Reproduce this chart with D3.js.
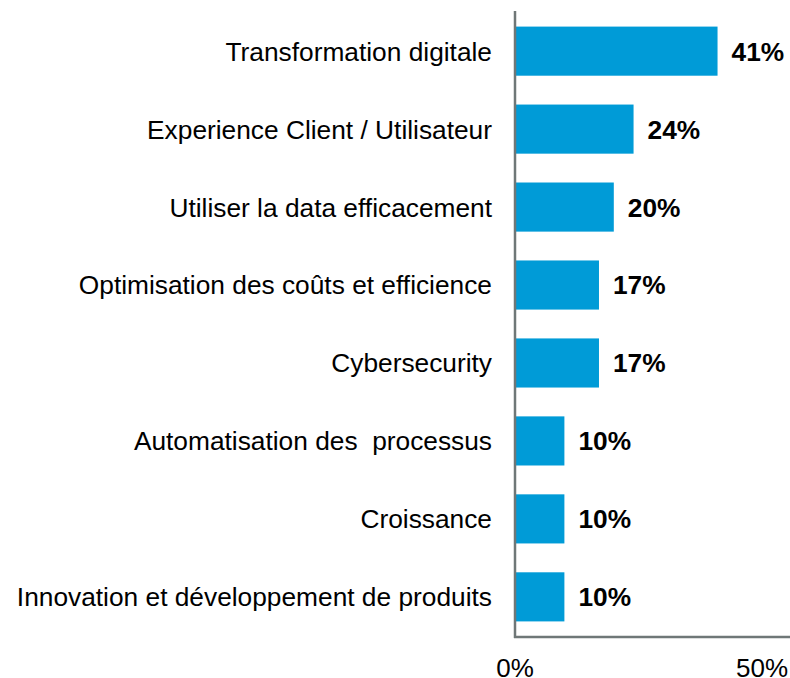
<!DOCTYPE html>
<html><head><meta charset="utf-8">
<script src="https://cdn.jsdelivr.net/npm/d3@7"></script>
<style>body{margin:0;background:#fff}svg{display:block}</style>
</head><body>
<svg id="c" width="790" height="678"></svg>
<script>
const categories = ["Transformation digitale","Experience Client / Utilisateur","Utiliser la data efficacement","Optimisation des coûts et efficience","Cybersecurity","Automatisation des  processus","Croissance","Innovation et développement de produits"];
const values = [41,24,20,17,17,10,10,10];
const tickValues = [0,50];

const svg = d3.select("#c");
const x = d3.scaleLinear().domain([0,50]).range([515,762]);
const y = d3.scaleBand().domain(categories).range([11,637]).paddingInner(0.37).paddingOuter(0.2);
const font = "Liberation Sans, Arial, sans-serif";

svg.selectAll("rect.bar").data(values).join("rect")
  .attr("class","bar")
  .attr("x", x(0)+1)
  .attr("y",(d,i)=>y(categories[i]))
  .attr("width", d=>x(d)-x(0)-1)
  .attr("height", y.bandwidth())
  .attr("fill","#009bd7");

svg.selectAll("text.val").data(values).join("text")
  .attr("class","val")
  .attr("x", d=>x(d)+14)
  .attr("y",(d,i)=>y(categories[i])+y.bandwidth()/2)
  .attr("dy","0.36em")
  .attr("font-family",font).attr("font-weight","bold").attr("font-size",26.3)
  .attr("fill","#000")
  .text(d=>d+"%");

svg.selectAll("text.cat").data(categories).join("text")
  .attr("class","cat")
  .attr("x",492)
  .attr("y",d=>y(d)+y.bandwidth()/2)
  .attr("dy","0.36em")
  .attr("text-anchor","end")
  .attr("font-family",font).attr("font-size",26.3)
  .attr("fill","#000")
  .style("white-space","pre")
  .text(d=>d);

// axes lines
svg.append("line").attr("x1",x(0)).attr("x2",x(0)).attr("y1",11).attr("y2",638)
  .attr("stroke","#6f7777").attr("stroke-width",2.5);
svg.append("line").attr("x1",x(0)-1).attr("x2",790).attr("y1",637).attr("y2",637)
  .attr("stroke","#6f7777").attr("stroke-width",2.5);

svg.selectAll("text.tick").data(tickValues).join("text")
  .attr("class","tick")
  .attr("x",d=>x(d))
  .attr("y",677)
  .attr("text-anchor","middle")
  .attr("font-family",font).attr("font-size",26)
  .attr("fill","#000")
  .text(d=>d+"%");
</script>
</body></html>
